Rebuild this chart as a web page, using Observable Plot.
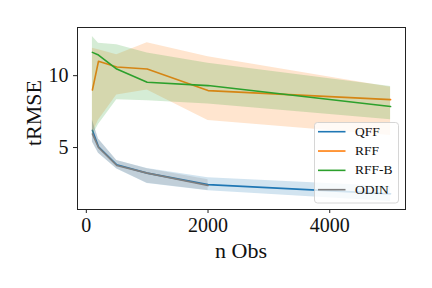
<!DOCTYPE html>
<html><head><meta charset="utf-8">
<script src="https://cdn.jsdelivr.net/npm/d3@7"></script>
<script src="https://cdn.jsdelivr.net/npm/@observablehq/plot@0.6"></script>
<style>body{margin:0;background:#fff;}</style>
</head><body><div id="chart"></div>
<script>
const nObs = [100, 200, 500, 1000, 2000, 5000];
const seriesNames = ["QFF", "RFF", "RFF-B", "ODIN"];
const colors = ["#1f77b4", "#ff7f0e", "#2ca02c", "#7f7f7f"];
const qffMean = [6.2, 5.05, 3.8, 3.22, 2.42, 1.78];
const qffLo   = [5.4, 4.6, 3.5, 2.5, 2.0, 1.25];
const qffHi   = [6.9, 5.6, 4.1, 3.55, 2.9, 2.29];
const rffMean = [9.0, 11.0, 10.6, 10.46, 8.96, 8.33];
const rffLo   = [6.0, 6.9, 8.66, 9.0, 6.88, 5.83];
const rffHi   = [11.9, 11.8, 11.46, 12.29, 11.32, 9.19];
const rffbMean = [11.62, 11.43, 10.46, 9.54, 9.31, 7.85];
const rffbLo   = [5.8, 6.6, 8.33, 8.26, 8.03, 6.94];
const rffbHi   = [12.73, 12.25, 12.15, 11.57, 10.86, 9.24];
const odinMean = [5.95, 5.0, 3.75, 3.22, 2.36];
const odinLo   = [5.37, 4.61, 3.52, 2.52, 2.01];
const odinHi   = [6.92, 5.6, 4.1, 3.52, 2.76];
const xTicks = [0, 2000, 4000];
const yTicks = [5, 10];

function build(mean, lo, hi) {
  return mean.map((m, i) => ({x: nObs[i], m, lo: lo[i], hi: hi[i]}));
}
const sets = [build(qffMean, qffLo, qffHi), build(rffMean, rffLo, rffHi),
              build(rffbMean, rffbLo, rffbHi), build(odinMean, odinLo, odinHi)];

const marks = [];
sets.forEach((d, i) => {
  marks.push(Plot.areaY(d, {x: "x", y1: "lo", y2: "hi", fill: colors[i], fillOpacity: 0.2}));
  marks.push(Plot.lineY(d, {x: "x", y: "m", stroke: colors[i], strokeWidth: 1.6}));
});
marks.push(Plot.frame({stroke: "#222", strokeWidth: 1}));
marks.push(Plot.axisX({ticks: xTicks, tickSize: 4, tickPadding: 4, fontSize: 20, fill: "#111", label: null, tickFormat: d => String(d)}));
marks.push(Plot.axisY({ticks: yTicks, tickSize: 4, tickPadding: 5, fontSize: 20, fill: "#111", label: null}));

const chart = Plot.plot({
  width: 432, height: 288,
  marginLeft: 77, marginRight: 27, marginTop: 27, marginBottom: 79,
  x: {domain: [-145, 5245]},
  y: {domain: [0.69, 13.35]},
  style: {fontFamily: "Liberation Serif, serif", color: "#222", background: "#fff"},
  marks
});
document.getElementById("chart").appendChild(chart);

const svg = d3.select(chart);
svg.append("text").attr("x", 241).attr("y", 258).attr("text-anchor", "middle")
  .attr("font-size", 22).attr("fill", "#111").text("n Obs");
svg.append("text").attr("transform", "translate(41,113) rotate(-90)").attr("text-anchor", "middle")
  .attr("font-size", 22).attr("fill", "#111").text("tRMSE");

const lg = svg.append("g");
lg.append("rect").attr("x", 314.5).attr("y", 122.5).attr("width", 84).attr("height", 80.5)
  .attr("rx", 3).attr("fill", "#fff").attr("fill-opacity", 0.8).attr("stroke", "#ccc").attr("stroke-width", 0.8);
seriesNames.forEach((n, i) => {
  const y = 131.7 + i * 19.33;
  lg.append("line").attr("x1", 318).attr("x2", 345.5).attr("y1", y).attr("y2", y)
    .attr("stroke", colors[i]).attr("stroke-width", 1.6);
  lg.append("text").attr("x", 355).attr("y", y + 4).attr("text-anchor", "start")
    .attr("font-size", 13.5).attr("fill", "#111").text(n);
});
svg.selectAll("text, g").style("font-family", "'Liberation Serif', serif");
</script></body></html>
